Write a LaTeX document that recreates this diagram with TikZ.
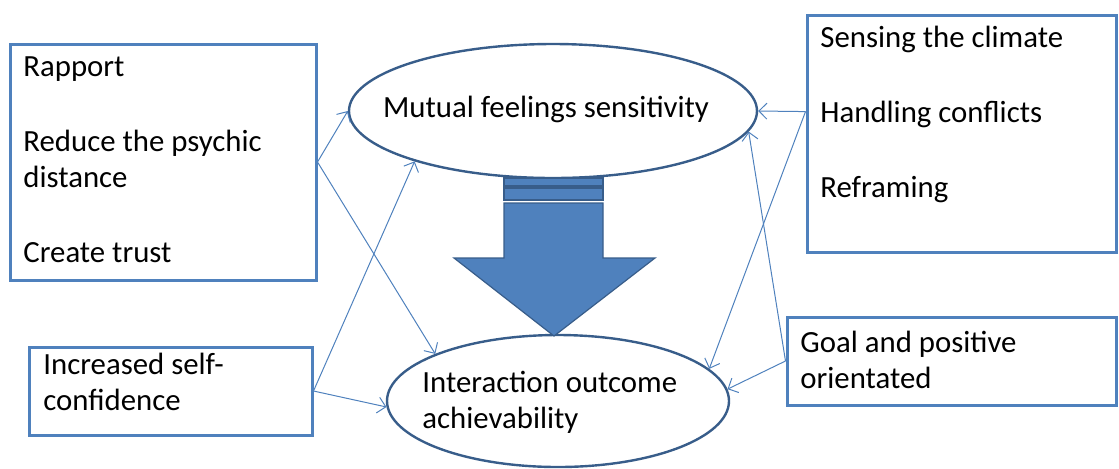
\documentclass[tikz,border=0pt]{standalone}
\usepackage{fontspec}
\setmainfont{Carlito}
\usetikzlibrary{shapes.geometric,arrows.meta}
\definecolor{boxblue}{HTML}{4F81BD}
\definecolor{darkblue}{HTML}{385D8A}
\tikzset{
  factor/.style={rectangle, draw=boxblue, line width=1.5pt, inner sep=0pt},
  aim/.style={ellipse, draw=darkblue, line width=1.2pt, inner sep=0pt},
  words/.style={align=left, inner sep=0pt, font=\fontsize{15.4pt}{18pt}\selectfont},
  link/.style={draw=boxblue, line width=0.5pt, -{Straight Barb[length=4pt,width=8pt]}},
  block/.style={fill=boxblue, draw=darkblue, line width=0.6pt}
}
\begin{document}
\begin{tikzpicture}[x=0.5pt,y=-0.5pt]
\useasboundingbox (0,0) rectangle (1119,468);
% boxes (text nodes sit on the baseline of their last line)
\node[factor, minimum width=153pt, minimum height=118pt] (RP) at (163,162) {};
\node[words, anchor=base west] (RPt) at (23,262) {Rapport\\[19.5pt]Reduce the psychic\\distance\\[19.5pt]Create trust};
\node[factor, minimum width=141.5pt, minimum height=44pt] (SC) at (170.5,391) {};
\node[words, anchor=base west] (SCt) at (43,410) {Increased self-\\confidence};
\node[factor, minimum width=154.5pt, minimum height=118.5pt] (CL) at (961.5,133.5) {};
\node[words, anchor=base west] (CLt) at (820,197) {Sensing the climate\\[19.5pt]Handling conflicts\\[19.5pt]Reframing};
\node[factor, minimum width=164.5pt, minimum height=44pt] (GO) at (951.5,361) {};
\node[words, anchor=base west] (GOt) at (800,388) {Goal and positive\\orientated};
% ellipses
\node[aim, minimum width=204pt, minimum height=67pt] (MF) at (553,111) {};
\node[words, anchor=base] (MFt) at (546,117) {Mutual feelings sensitivity};
\node[aim, minimum width=171pt, minimum height=66pt] (IO) at (558,401) {};
\node[words, anchor=base west] (IOt) at (422,428) {Interaction outcome\\achievability};
% striped block arrow
\filldraw[block] (504,178) rectangle (603,186);
\filldraw[block] (504,188) rectangle (603,200);
\filldraw[block] (504,203) -- (603,203) -- (603,258) -- (655,258) -- (554,336)
  -- (454,258) -- (504,258) -- cycle;
% connectors
\draw[link] (RP.east) -- (MF.west);
\draw[link] (RP.east) -- (IO.159);
\draw[link] (SC.east) -- (MF.200);
\draw[link] (SC.east) -- (IO.182);
\draw[link] (CL.172) -- (MF.east);
\draw[link] (CL.172) -- (IO.12);
\draw[link] (GO.west) -- (MF.354);
\draw[link] (GO.west) -- (IO.4);
\end{tikzpicture}
\end{document}
